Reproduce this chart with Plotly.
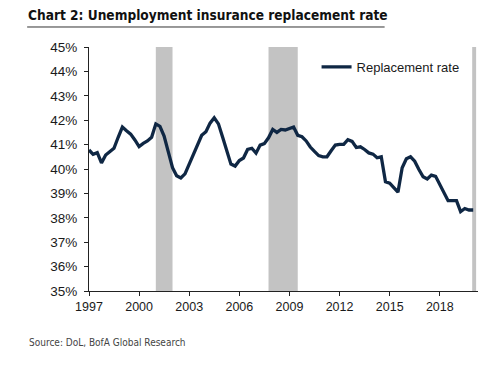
import pandas as pd
import plotly.graph_objects as go

# Quarterly unemployment insurance replacement rate (%), 1997Q1 - 2020Q1
start_quarter = "1997-01-01"
replacement_rate = [
    40.78, 40.60, 40.67, 40.25, 40.57, 40.70, 40.85, 41.30,
    41.72, 41.57, 41.43, 41.19, 40.92, 41.05, 41.15, 41.30,
    41.85, 41.75, 41.35, 40.70, 40.05, 39.72, 39.63, 39.80,
    40.20, 40.65, 41.00, 41.38, 41.53, 41.88, 42.10, 41.85,
    41.30, 40.75, 40.20, 40.12, 40.35, 40.45, 40.80, 40.85,
    40.65, 40.98, 41.04, 41.28, 41.62, 41.50, 41.62, 41.60,
    41.66, 41.72, 41.38, 41.32, 41.15, 40.90, 40.72, 40.55,
    40.50, 40.50, 40.75, 40.98, 41.01, 41.01, 41.20, 41.13,
    40.88, 40.91, 40.80, 40.66, 40.61, 40.46, 40.50, 39.48,
    39.42, 39.22, 39.05, 40.05, 40.42, 40.50, 40.32, 39.98,
    39.68, 39.59, 39.75, 39.70, 39.35, 39.05, 38.70, 38.70,
    38.70, 38.25, 38.38, 38.32, 38.32,
]
dates = pd.date_range(start_quarter, periods=len(replacement_rate), freq="QS")

# Recession shading
recession_starts = ["2001-01-01", "2007-10-01", "2019-12-10"]
recession_ends = ["2002-01-01", "2009-07-01", "2020-03-05"]

tick_years = ["1997", "2000", "2003", "2006", "2009", "2012", "2015", "2018"]
y_ticks = [35, 36, 37, 38, 39, 40, 41, 42, 43, 44, 45]

fig = go.Figure()

for s, e in zip(recession_starts, recession_ends):
    fig.add_shape(type="rect", xref="x", yref="y", x0=s, x1=e, y0=35, y1=45,
                  fillcolor="#c3c3c3", line=dict(width=0), layer="below")

fig.add_trace(go.Scatter(
    x=dates, y=replacement_rate, mode="lines", name="Replacement rate",
    line=dict(color="#0f2744", width=3.3),
))

fig.update_layout(
    width=500, height=375,
    margin=dict(l=81, r=30, t=39, b=92),
    paper_bgcolor="white", plot_bgcolor="white",
    font=dict(family="Liberation Sans, Arial, sans-serif", color="#1a1a1a", size=13),
    showlegend=True,
    legend=dict(x=0.585, y=0.98, xanchor="left", yanchor="top",
                bgcolor="rgba(0,0,0,0)", font=dict(size=13, color="#1a1a1a"),
                itemwidth=30),
    xaxis=dict(
        type="date", range=["1997-01-01", "2020-04-15"],
        tickmode="array", tickvals=[f"{y}-01-01" for y in tick_years], ticktext=tick_years,
        showgrid=False, zeroline=False, showline=True, linecolor="#222", linewidth=1.2,
        ticks="outside", ticklen=4, tickcolor="#222", tickfont=dict(size=12.5),
        automargin=False,
    ),
    yaxis=dict(
        range=[35, 45], tickvals=y_ticks, ticktext=[f"{v}%" for v in y_ticks],
        showgrid=False, zeroline=False, showline=True, linecolor="#222", linewidth=1.2,
        ticks="outside", ticklen=4, tickcolor="#222", tickfont=dict(size=13.5),
        ticklabelstandoff=4, automargin=False,
    ),
)

fig.add_annotation(
    text="<b>Chart 2: Unemployment insurance replacement rate</b>",
    xref="paper", yref="paper", x=-0.162, y=1.13, xanchor="left", yanchor="middle",
    showarrow=False,
    font=dict(family="Liberation Sans Narrow, DejaVu Sans Condensed, Liberation Sans, sans-serif",
              size=13.6, color="#111"),
)
fig.add_shape(type="line", xref="paper", yref="paper", x0=-0.159, x1=0.76,
              y0=1.082, y1=1.082, line=dict(color="#333", width=1))

fig.add_annotation(
    text="Source: DoL, BofA Global Research",
    xref="paper", yref="paper", x=-0.159, y=-0.213, xanchor="left", yanchor="middle",
    showarrow=False,
    font=dict(family="Liberation Sans Narrow, DejaVu Sans Condensed, Liberation Sans, sans-serif",
              size=10, color="#444"),
)

fig.write_html("out.html")
